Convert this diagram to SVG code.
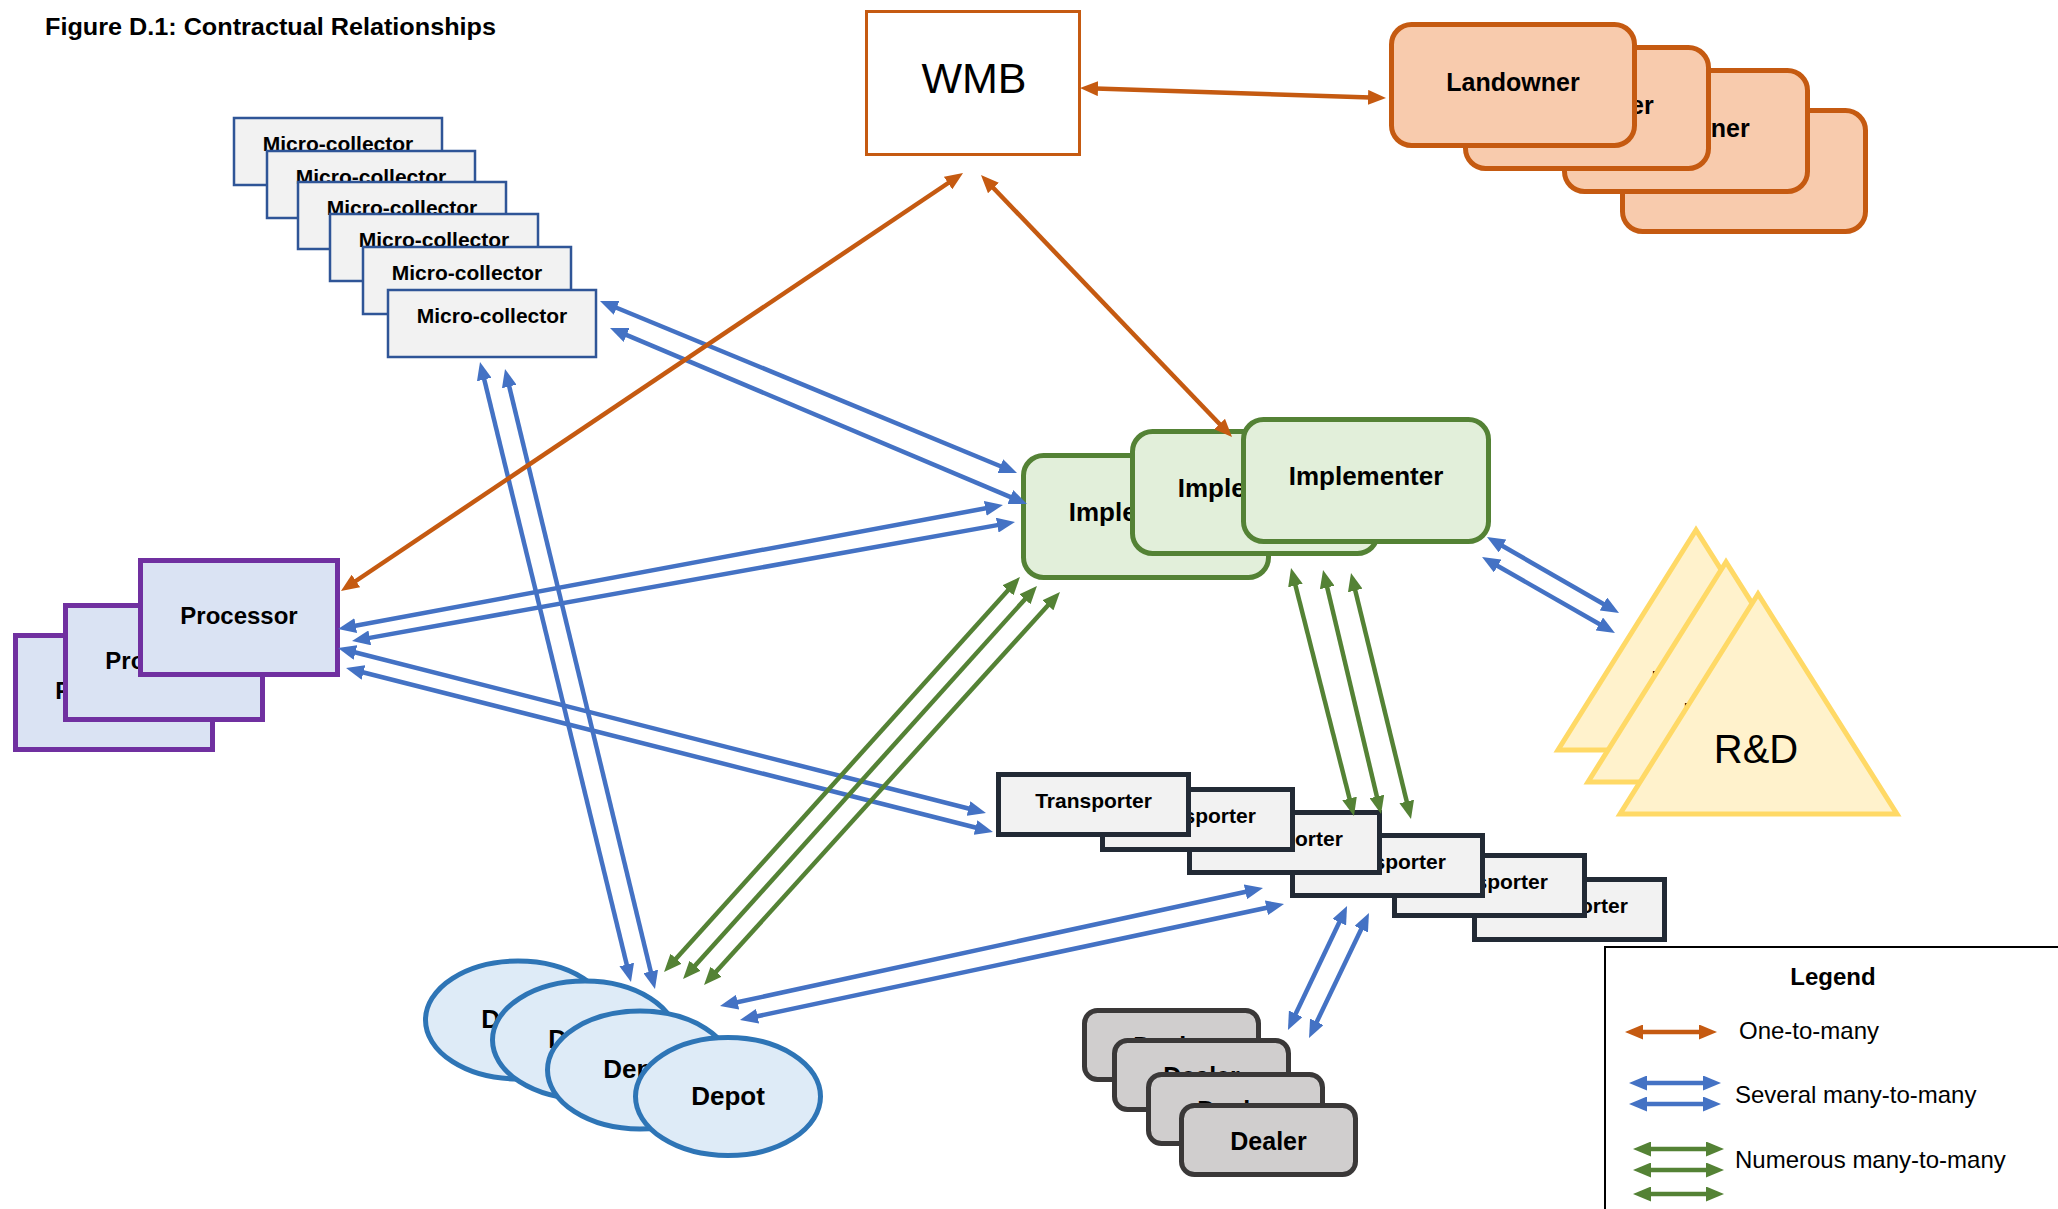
<svg xmlns="http://www.w3.org/2000/svg" width="2058" height="1209" viewBox="0 0 2058 1209">
  <style>
    text { font-family: "Liberation Sans", Arial, sans-serif; fill: #000; }
    .b { font-weight: bold; }
    .c { text-anchor: middle; }
    .micro { fill: #F2F2F2; stroke: #2F5597; stroke-width: 2.5; }
    .wmb { fill: #FFFFFF; stroke: #C55A11; stroke-width: 3; }
    .land { fill: #F8CBAD; stroke: #C55A11; stroke-width: 5; }
    .proc { fill: #DAE3F3; stroke: #7030A0; stroke-width: 5; }
    .impl { fill: #E2EFDA; stroke: #548235; stroke-width: 5; }
    .rd { fill: #FFF2CC; stroke: #FFD966; stroke-width: 5; stroke-linejoin: miter; }
    .trans { fill: #F2F2F2; stroke: #222A35; stroke-width: 5; }
    .depot { fill: #DEEBF7; stroke: #2E75B6; stroke-width: 5; }
    .dealer { fill: #D0CECE; stroke: #3A3838; stroke-width: 5; }
    .one { stroke: #C55A11; stroke-width: 4.5; fill: none; marker-start: url(#ah-o); marker-end: url(#ah-o); }
    .sev { stroke: #4472C4; stroke-width: 4.5; fill: none; marker-start: url(#ah-b); marker-end: url(#ah-b); }
    .num { stroke: #548235; stroke-width: 4.5; fill: none; marker-start: url(#ah-g); marker-end: url(#ah-g); }
  </style>
  <defs>
    <marker id="ah-o" viewBox="0 0 18 15" markerWidth="18" markerHeight="15" refX="10" refY="7.5" orient="auto-start-reverse" markerUnits="userSpaceOnUse">
      <path d="M0,0 L18,7.5 L0,15 z" fill="#C55A11"/>
    </marker>
    <marker id="ah-b" viewBox="0 0 18 15" markerWidth="18" markerHeight="15" refX="10" refY="7.5" orient="auto-start-reverse" markerUnits="userSpaceOnUse">
      <path d="M0,0 L18,7.5 L0,15 z" fill="#4472C4"/>
    </marker>
    <marker id="ah-g" viewBox="0 0 18 15" markerWidth="18" markerHeight="15" refX="10" refY="7.5" orient="auto-start-reverse" markerUnits="userSpaceOnUse">
      <path d="M0,0 L18,7.5 L0,15 z" fill="#548235"/>
    </marker>
  </defs>

  <rect x="0" y="0" width="2058" height="1209" fill="#FFFFFF"/>

  <text id="title" class="b" x="45" y="35" font-size="24" textLength="451" lengthAdjust="spacingAndGlyphs">Figure D.1: Contractual Relationships</text>

  <!-- WMB -->
  <g id="wmb">
    <rect class="wmb" x="866.5" y="11.5" width="213" height="143"/>
    <text class="c" x="974" y="93" font-size="43">WMB</text>
  </g>

  <!-- Landowners, back to front -->
  <g id="landowners">
    <g id="landowner-4"><rect class="land" x="1622.5" y="110.5" width="243" height="121" rx="20"/><text class="b c" x="1738" y="177" font-size="25">Landowner</text></g>
    <g id="landowner-3"><rect class="land" x="1564.5" y="70.5" width="243" height="121" rx="20"/><text class="b c" x="1683" y="137" font-size="25">Landowner</text></g>
    <g id="landowner-2"><rect class="land" x="1465.5" y="47.5" width="243" height="121" rx="20"/><text class="b c" x="1587" y="114" font-size="25">Landowner</text></g>
    <g id="landowner-1"><rect class="land" x="1391.5" y="24.5" width="243" height="121" rx="20"/><text class="b c" x="1513" y="91" font-size="25">Landowner</text></g>
  </g>

  <!-- Micro-collectors, back to front -->
  <g id="micro-collectors">
    <g id="micro-1"><rect class="micro" x="234" y="118" width="208" height="67"/><text class="b c" x="338" y="151" font-size="21">Micro-collector</text></g>
    <g id="micro-2"><rect class="micro" x="267" y="151" width="208" height="67"/><text class="b c" x="371" y="184" font-size="21">Micro-collector</text></g>
    <g id="micro-3"><rect class="micro" x="298" y="182" width="208" height="67"/><text class="b c" x="402" y="215" font-size="21">Micro-collector</text></g>
    <g id="micro-4"><rect class="micro" x="330" y="214" width="208" height="67"/><text class="b c" x="434" y="247" font-size="21">Micro-collector</text></g>
    <g id="micro-5"><rect class="micro" x="363" y="247" width="208" height="67"/><text class="b c" x="467" y="280" font-size="21">Micro-collector</text></g>
    <g id="micro-6"><rect class="micro" x="388" y="290" width="208" height="67"/><text class="b c" x="492" y="323" font-size="21">Micro-collector</text></g>
  </g>

  <!-- Processors, back to front -->
  <g id="processors">
    <g id="processor-3"><rect class="proc" x="15.5" y="635.5" width="197" height="114"/><text class="b c" x="114" y="699" font-size="24">Processor</text></g>
    <g id="processor-2"><rect class="proc" x="65.5" y="605.5" width="197" height="114"/><text class="b c" x="164" y="669" font-size="24">Processor</text></g>
    <g id="processor-1"><rect class="proc" x="140.5" y="560.5" width="197" height="114"/><text class="b c" x="239" y="624" font-size="24">Processor</text></g>
  </g>

  <!-- Implementers, back to front -->
  <g id="implementers">
    <g id="implementer-3"><rect class="impl" x="1023.5" y="455.5" width="245" height="122" rx="20"/><text class="b c" x="1146" y="521" font-size="26">Implementer</text></g>
    <g id="implementer-2"><rect class="impl" x="1132.5" y="431.5" width="245" height="122" rx="20"/><text class="b c" x="1255" y="497" font-size="26">Implementer</text></g>
    <g id="implementer-1"><rect class="impl" x="1243.5" y="419.5" width="245" height="122" rx="20"/><text class="b c" x="1366" y="485" font-size="26">Implementer</text></g>
  </g>

  <!-- R&D, back to front -->
  <g id="rnd">
    <g id="rnd-3"><polygon class="rd" points="1696,530 1558,750 1835,750"/><text class="c" x="1692" y="699" font-size="40">R&amp;D</text></g>
    <g id="rnd-2"><polygon class="rd" points="1726,562 1588,782 1865,782"/><text class="c" x="1724" y="731" font-size="40">R&amp;D</text></g>
    <g id="rnd-1"><polygon class="rd" points="1758,594 1620,814 1897,814"/><text class="c" x="1756" y="763" font-size="40">R&amp;D</text></g>
  </g>

  <!-- Transporters, back (right) to front (left) -->
  <g id="transporters">
    <g id="transporter-6"><rect class="trans" x="1474.5" y="879.5" width="190" height="60"/><text class="b c" x="1569.5" y="913" font-size="21">Transporter</text></g>
    <g id="transporter-5"><rect class="trans" x="1394.5" y="855.5" width="190" height="60"/><text class="b c" x="1489.5" y="889" font-size="21">Transporter</text></g>
    <g id="transporter-4"><rect class="trans" x="1292.5" y="835.5" width="190" height="60"/><text class="b c" x="1387.5" y="869" font-size="21">Transporter</text></g>
    <g id="transporter-3"><rect class="trans" x="1189.5" y="812.5" width="190" height="60"/><text class="b c" x="1284.5" y="846" font-size="21">Transporter</text></g>
    <g id="transporter-2"><rect class="trans" x="1102.5" y="789.5" width="190" height="60"/><text class="b c" x="1197.5" y="823" font-size="21">Transporter</text></g>
    <g id="transporter-1"><rect class="trans" x="998.5" y="774.5" width="190" height="60"/><text class="b c" x="1093.5" y="808" font-size="21">Transporter</text></g>
  </g>

  <!-- Depots, back to front -->
  <g id="depots">
    <g id="depot-4"><ellipse class="depot" cx="518" cy="1020" rx="92.5" ry="59"/><text class="b c" x="518" y="1028" font-size="26">Depot</text></g>
    <g id="depot-3"><ellipse class="depot" cx="585" cy="1040" rx="92.5" ry="59"/><text class="b c" x="585" y="1048" font-size="26">Depot</text></g>
    <g id="depot-2"><ellipse class="depot" cx="640" cy="1070" rx="92.5" ry="59"/><text class="b c" x="640" y="1078" font-size="26">Depot</text></g>
    <g id="depot-1"><ellipse class="depot" cx="728" cy="1096.5" rx="92.5" ry="59"/><text class="b c" x="728" y="1105" font-size="26">Depot</text></g>
  </g>

  <!-- Dealers, back to front -->
  <g id="dealers">
    <g id="dealer-4"><rect class="dealer" x="1084.5" y="1010.5" width="174" height="69" rx="13"/><text class="b c" x="1171.5" y="1055" font-size="25">Dealer</text></g>
    <g id="dealer-3"><rect class="dealer" x="1114.5" y="1040.5" width="174" height="69" rx="13"/><text class="b c" x="1201.5" y="1085" font-size="25">Dealer</text></g>
    <g id="dealer-2"><rect class="dealer" x="1148.5" y="1074.5" width="174" height="69" rx="13"/><text class="b c" x="1235.5" y="1119" font-size="25">Dealer</text></g>
    <g id="dealer-1"><rect class="dealer" x="1181.5" y="1105.5" width="174" height="69" rx="13"/><text class="b c" x="1268.5" y="1150" font-size="25">Dealer</text></g>
  </g>

  <!-- Connectors -->
  <g id="connectors">
    <!-- several many-to-many (blue pairs) -->
    <line class="sev" x1="607.4" y1="304" x2="1009.6" y2="470"/>
    <line class="sev" x1="617.4" y1="331.1" x2="1019.6" y2="500.9"/>
    <line class="sev" x1="481.9" y1="369.8" x2="629.1" y2="974.2"/>
    <line class="sev" x1="506.9" y1="376.8" x2="653.1" y2="981.2"/>
    <line class="sev" x1="345.9" y1="627.5" x2="995.1" y2="506.5"/>
    <line class="sev" x1="359.9" y1="639.6" x2="1007.1" y2="523.4"/>
    <line class="sev" x1="345.8" y1="650" x2="978.2" y2="811"/>
    <line class="sev" x1="353.8" y1="670" x2="985.2" y2="830"/>
    <line class="sev" x1="727.8" y1="1004.3" x2="1255.2" y2="889.7"/>
    <line class="sev" x1="747.8" y1="1018.3" x2="1276.2" y2="905.7"/>
    <line class="sev" x1="1343.6" y1="913.2" x2="1291.4" y2="1022.8"/>
    <line class="sev" x1="1365.5" y1="920.2" x2="1312.5" y2="1030.8"/>
    <line class="sev" x1="1493.9" y1="541" x2="1612.1" y2="609"/>
    <line class="sev" x1="1489" y1="561" x2="1608" y2="629"/>
    <!-- numerous many-to-many (green triples) -->
    <line class="num" x1="1014.6" y1="582.9" x2="669.4" y2="966.1"/>
    <line class="num" x1="1031.6" y1="591.9" x2="688.4" y2="973.1"/>
    <line class="num" x1="1054.6" y1="597.9" x2="709.4" y2="979.1"/>
    <line class="num" x1="1293" y1="575.8" x2="1352" y2="808.2"/>
    <line class="num" x1="1324.9" y1="577.8" x2="1379.2" y2="806.2"/>
    <line class="num" x1="1352.9" y1="580.8" x2="1409.1" y2="811.2"/>
    <!-- one-to-many (orange) -->
    <line class="one" x1="1088" y1="88.3" x2="1378" y2="97.7"/>
    <line class="one" x1="956.4" y1="177.5" x2="347.6" y2="586.5"/>
    <line class="one" x1="986.5" y1="180.8" x2="1226.5" y2="431.2"/>
  </g>

  <!-- Legend -->
  <g id="legend">
    <rect x="1605" y="947" width="500" height="300" fill="#FFFFFF" stroke="#000000" stroke-width="2"/>
    <text class="b c" x="1833" y="985" font-size="24">Legend</text>
    <line class="one" x1="1633" y1="1032" x2="1709" y2="1032"/>
    <text x="1739" y="1039" font-size="24">One-to-many</text>
    <line class="sev" x1="1637" y1="1083" x2="1713" y2="1083"/>
    <line class="sev" x1="1637" y1="1104" x2="1713" y2="1104"/>
    <text x="1735" y="1103" font-size="24">Several many-to-many</text>
    <line class="num" x1="1641" y1="1149" x2="1716" y2="1149"/>
    <line class="num" x1="1641" y1="1170" x2="1716" y2="1170"/>
    <line class="num" x1="1641" y1="1194" x2="1716" y2="1194"/>
    <text x="1735" y="1168" font-size="24">Numerous many-to-many</text>
  </g>
</svg>
